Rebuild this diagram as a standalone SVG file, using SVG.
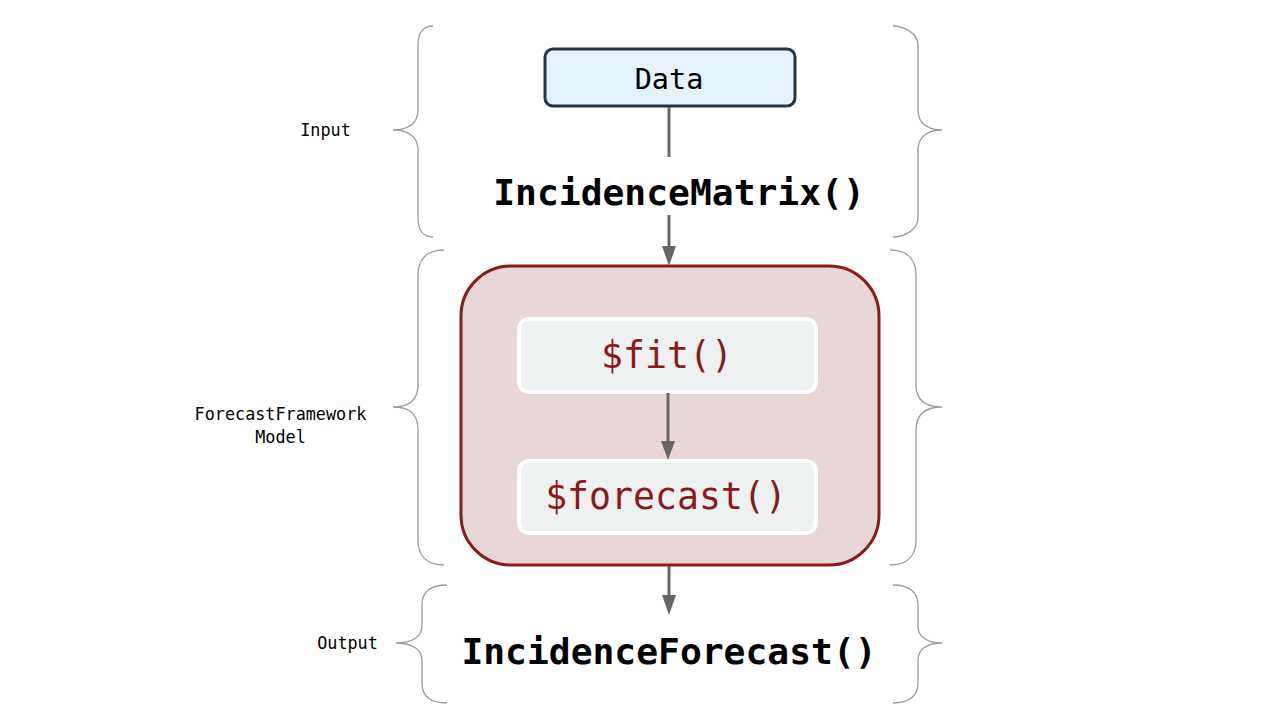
<svg xmlns="http://www.w3.org/2000/svg" width="1280" height="720" viewBox="0 0 1280 720">
<defs>
<style>
.brace{fill:none;stroke:#9a9a9a;stroke-width:1.3}
.lbl{font-family:"DejaVu Sans Mono","Liberation Mono",monospace;font-size:16.8px;fill:#000;text-anchor:middle}
.big{font-family:"DejaVu Sans Mono","Liberation Mono",monospace;font-size:36.3px;font-weight:bold;fill:#000;text-anchor:middle}
.fn{font-family:"DejaVu Sans Mono","Liberation Mono",monospace;font-size:36.5px;fill:#8b1a1a;text-anchor:middle}
.edge{fill:none;stroke:#666;stroke-width:3}
.head{fill:#666}
</style>
</defs>
<rect width="1280" height="720" fill="#fff"/>
<g id="braces">
<path class="brace" d="M433,26 C424,26 418,32 418,45 L418,110 C418,122 410,130 393,130 C410,130 418,138 418,150 L418,218 C418,231 424,237 433,237"/>
<path class="brace" d="M893,26 C902,26 918,32 918,45 L918,110 C918,122 926,130 942,130 C926,130 918,138 918,150 L918,218 C918,231 902,237 893,237"/>
<path class="brace" d="M444,250 C426,250 418,260 418,275 L418,385 C418,400 410,407 393,407 C410,407 418,414 418,430 L418,540 C418,555 426,565 444,565"/>
<path class="brace" d="M890,250 C908,250 916,260 916,275 L916,385 C916,400 925,407 942,407 C925,407 916,414 916,430 L916,540 C916,555 908,565 890,565"/>
<path class="brace" d="M447,585 C428,585 422,593 422,605 L422,626 C422,636 413,643 396,643 C413,643 422,650 422,660 L422,683 C422,695 428,703 447,703"/>
<path class="brace" d="M893,585 C910,585 918,593 918,605 L918,626 C918,636 926,643 942,643 C926,643 918,650 918,660 L918,683 C918,695 910,703 893,703"/>
</g>
<g id="labels">
<text class="lbl" x="325.5" y="136">Input</text>
<text class="lbl" x="280.5" y="420">ForecastFramework</text>
<text class="lbl" x="280.5" y="443">Model</text>
<text class="lbl" x="347.5" y="649">Output</text>
</g>
<g id="data">
<rect x="545" y="49" width="250" height="57" rx="8" fill="#e4f2fc" stroke="#263544" stroke-width="3"/>
<text x="669" y="89" font-family="DejaVu Sans Mono, Liberation Mono, monospace" font-size="28.5" fill="#000" text-anchor="middle">Data</text>
</g>
<g id="incidence-matrix">
<text class="big" x="679" y="205">IncidenceMatrix()</text>
</g>
<g id="model">
<rect x="461" y="266" width="418" height="299" rx="50" fill="#e9d6d7" stroke="#8b1a1a" stroke-width="3"/>
</g>
<g id="fit">
<rect x="519" y="319" width="297" height="73" rx="10" fill="#eef1f2" stroke="#fff" stroke-width="4"/>
<text class="fn" x="667" y="368">$fit()</text>
</g>
<g id="forecast">
<rect x="519" y="461" width="297" height="72" rx="10" fill="#eef1f2" stroke="#fff" stroke-width="4"/>
<text class="fn" x="666" y="509">$forecast()</text>
</g>
<g id="incidence-forecast">
<text class="big" x="669" y="664">IncidenceForecast()</text>
</g>
<g id="connectors">
<line class="edge" x1="669" y1="107" x2="669" y2="157"/>
<line class="edge" x1="669" y1="215" x2="669" y2="250"/>
<path class="head" d="M662,246 L676,246 L669,266 Z"/>
<line class="edge" x1="668" y1="393" x2="668" y2="444"/>
<path class="head" d="M661,441 L675,441 L668,460 Z"/>
<line class="edge" x1="669" y1="566" x2="669" y2="598"/>
<path class="head" d="M662,595 L676,595 L669,615 Z"/>
</g>
</svg>
